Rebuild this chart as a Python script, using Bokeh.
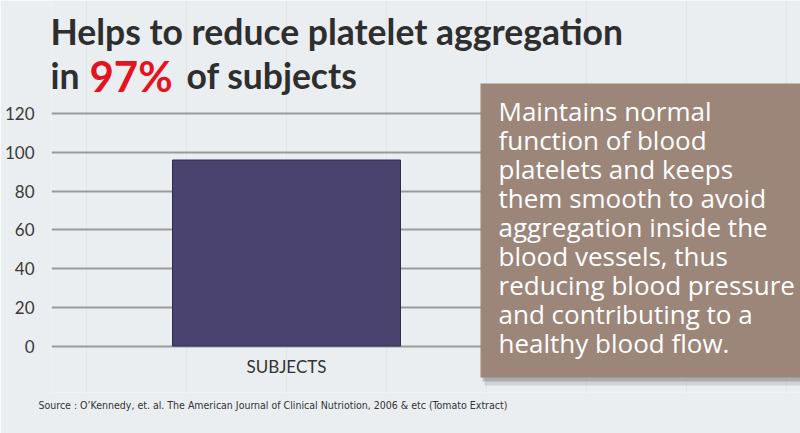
from bokeh.plotting import figure
from bokeh.models import Range1d, FixedTicker, Label, BoxAnnotation, Title
from bokeh.core.properties import value
from bokeh.embed import file_html
from bokeh.resources import INLINE

# ---- data ----
categories = ["SUBJECTS"]
values = [96]
y_ticks = [0, 20, 40, 60, 80, 100, 120]

title_line1 = "Helps to reduce platelet aggregation"
title_line2 = ["in ", "97%", " of subjects"]
box_lines = [
    "Maintains normal",
    "function of blood",
    "platelets and keeps",
    "them smooth to avoid",
    "aggregation inside the",
    "blood vessels, thus",
    "reducing blood pressure",
    "and contributing to a",
    "healthy blood flow.",
]
source_text = ("Source : O\u2019Kennedy, et. al. The American Journal of Clinical "
               "Nutriotion, 2006 & etc (Tomato Extract)")

# ---- layout (page pixels) ----
W, H = 800, 433
frame_left_pg = 51
frame_bottom_pg = 392
zero_pg = 345.5
top120_pg = 113
ppu = (zero_pg - top120_pg) / 120.0
bar_center_pg = 286
BG = "#eaeef1"
LBL_SHIFT = 14   # label baseline correction


def dx(xp):
    return xp - bar_center_pg


def dy(yp):
    return (zero_pg - yp) / ppu


def ly(yp):
    return dy(yp - LBL_SHIFT)


p = figure(width=W, height=H,
           x_range=Range1d(dx(frame_left_pg), dx(W)),
           y_range=Range1d(dy(frame_bottom_pg), dy(0)),
           output_backend="svg", toolbar_location=None, x_axis_location=None,
           min_border_left=frame_left_pg, min_border_right=0,
           min_border_top=0, min_border_bottom=H - frame_bottom_pg)
p.outline_line_color = None
p.background_fill_color = BG
p.border_fill_color = BG

# grid
p.ygrid.ticker = FixedTicker(ticks=y_ticks)
p.ygrid.grid_line_color = "#9a9a9a"
p.ygrid.grid_line_width = 2

# bar
xs = list(range(len(categories)))
p.vbar(x=xs, top=values, width=228, bottom=0,
       fill_color="#4a426f", line_color="#2f2a52", line_width=1)

# category labels (drawn from the category list through the x scale)
p.text(x=xs, y=[dy(366)] * len(xs), text=categories,
       text_font=value("Lato"), text_font_size="17px", text_color="#333333",
       text_align="center", text_baseline="middle")

# y axis
p.yaxis.ticker = FixedTicker(ticks=y_ticks)
p.yaxis.axis_line_color = None
p.yaxis.major_tick_line_color = None
p.yaxis.minor_tick_line_color = None
p.yaxis.major_label_standoff = 11
p.yaxis.major_label_text_font = "Lato"
p.yaxis.major_label_text_font_size = "17px"
p.yaxis.major_label_text_color = "#3a3a3a"

# text box with shadow
p.add_layout(BoxAnnotation(left=dx(484), right=dx(805), top=dy(88), bottom=dy(385),
                           fill_color="#6a6a6a", fill_alpha=0.2, line_color=None))
p.add_layout(BoxAnnotation(left=dx(482), right=dx(805), top=dy(86), bottom=dy(381),
                           fill_color="#555555", fill_alpha=0.3, line_color=None))
p.add_layout(BoxAnnotation(left=dx(480), right=dx(805), top=dy(83), bottom=dy(377),
                           fill_color="#9c8679", fill_alpha=1.0, line_color=None))
for i, line in enumerate(box_lines):
    p.add_layout(Label(x=dx(498), y=ly(124 + i * 29), text=line,
                       text_color="white", text_font="Open Sans",
                       text_font_size="26px", text_baseline="alphabetic"))

# titles
p.add_layout(Label(x=dx(50), y=ly(45), text=title_line1, text_color="#2e2e2e",
                   text_font="Lato", text_font_size="35.5px", text_font_style="bold",
                   text_baseline="alphabetic"))
for xp, txt, col, fs in zip([50, 89, 186], title_line2,
                            ["#2e2e2e", "#e3141e", "#2e2e2e"],
                            ["35.5px", "42px", "35.5px"]):
    p.add_layout(Label(x=dx(xp), y=ly(89), text=txt, text_color=col,
                       text_font="Lato", text_font_size=fs,
                       text_font_style="bold", text_baseline="alphabetic"))

# source
p.add_layout(Title(text=source_text, align="left", offset=-13, standoff=8,
                   text_color="#333333", text_font="DejaVu Sans Condensed",
                   text_font_size="10.5px", text_font_style="normal"), "below")

open("out.html", "w").write(file_html(p, INLINE))
